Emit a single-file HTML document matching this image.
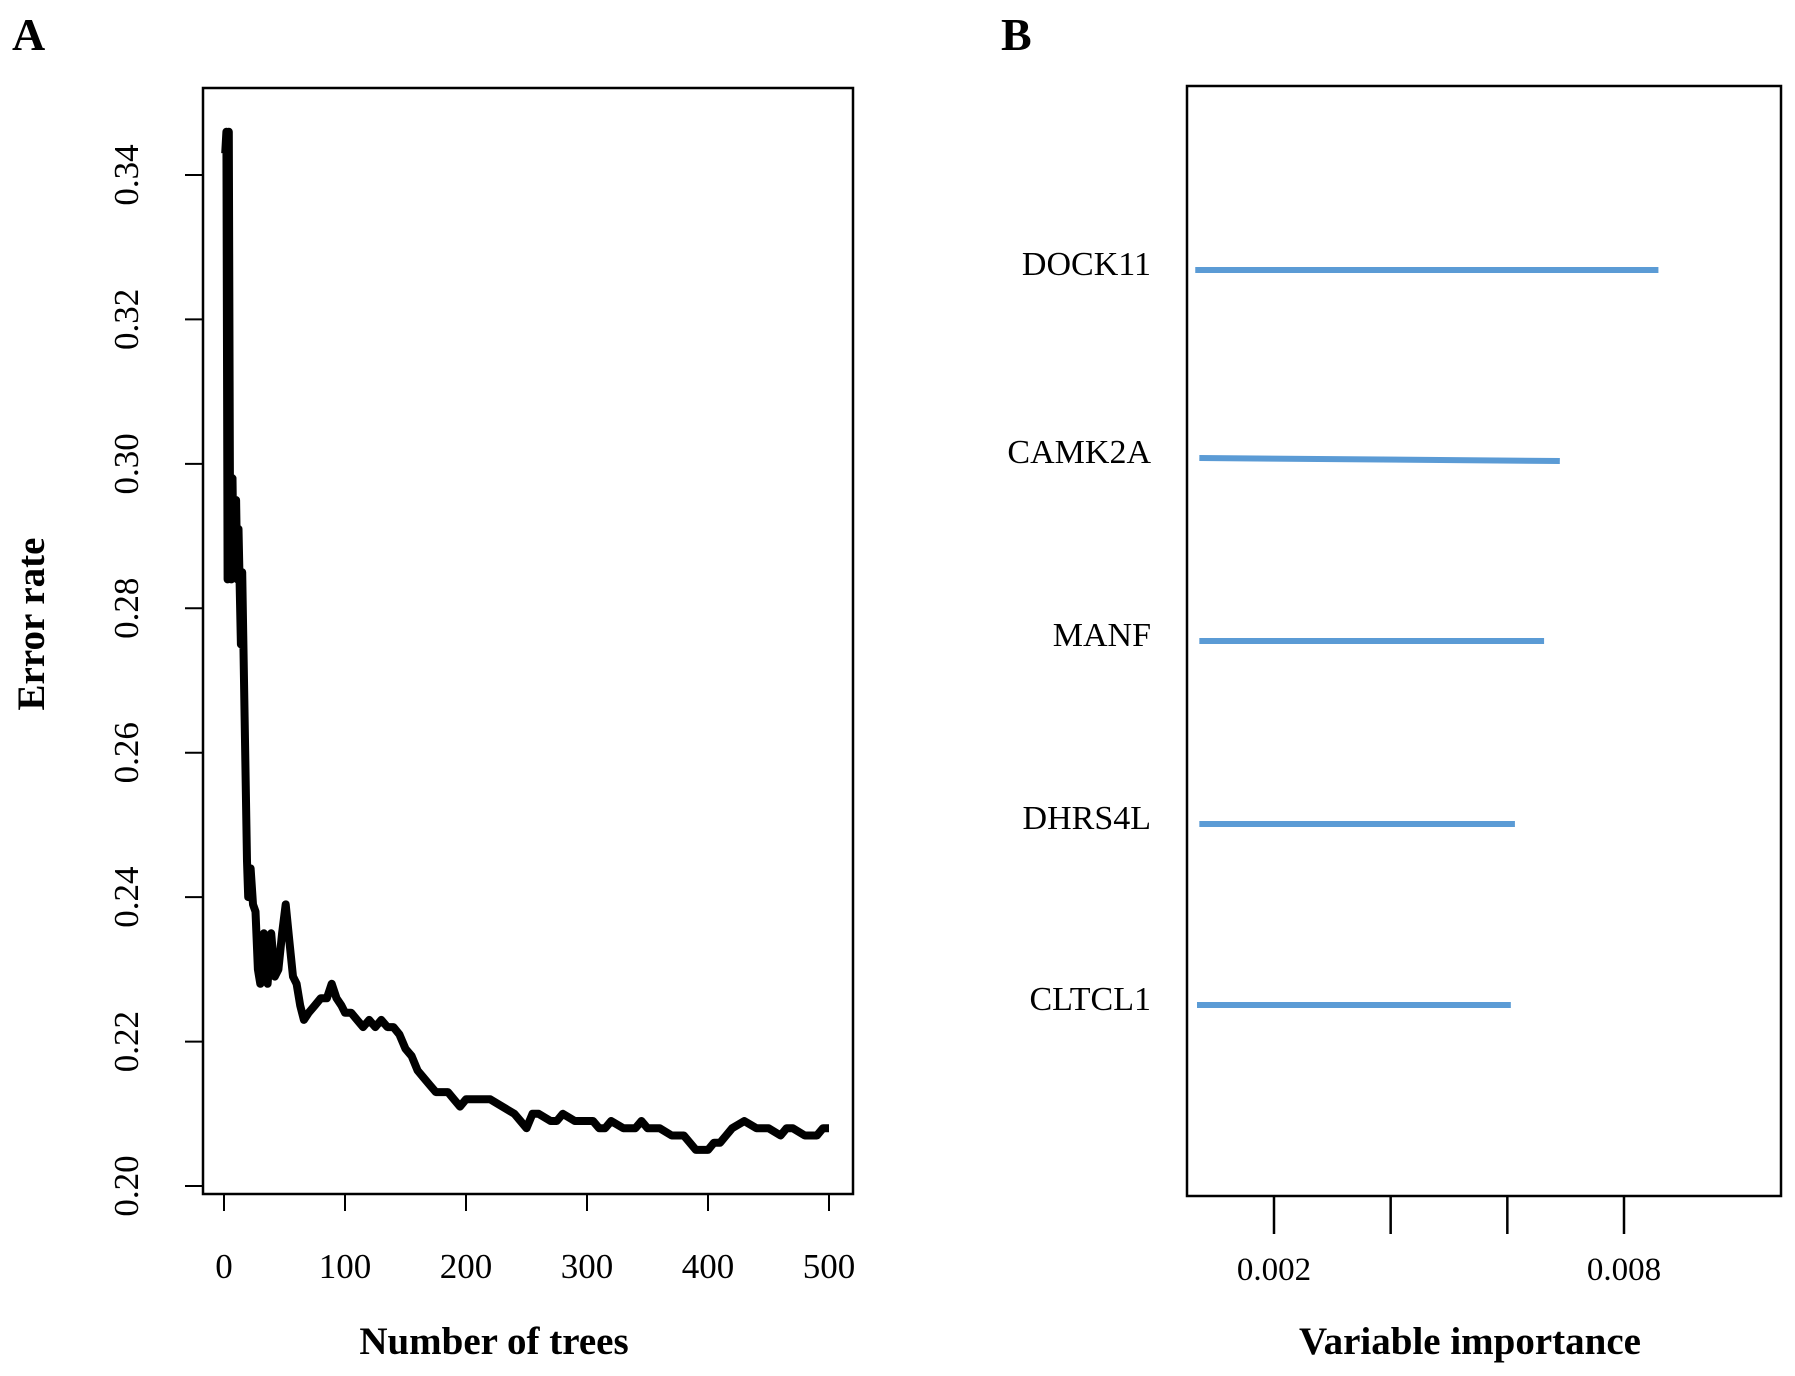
<!DOCTYPE html>
<html><head><meta charset="utf-8"><style>
html,body{margin:0;padding:0;background:#fff;}
svg{display:block;font-family:"Liberation Serif",serif;}
</style></head><body>
<svg id="fig" width="1795" height="1376" viewBox="0 0 1795 1376">
<text x="12" y="50" font-size="46" font-weight="bold">A</text>
<text x="1001" y="50" font-size="46" font-weight="bold">B</text>
<g id="chartA"></g>
<g id="chartB"></g>
</svg>
<script>
// Panel A data
const treeCounts = [1,2,3,4,5,6,7,8,10,11,12,14,15,17,19,20,22,24,26,28,30,33,36,39,42,45,48,51,54,57,60,63,66,70,75,80,85,89,93,97,100,105,110,115,120,125,130,135,140,145,150,155,160,165,170,175,180,185,190,195,200,210,220,230,240,245,250,255,260,270,275,280,290,300,305,310,315,320,330,340,345,350,360,370,380,390,400,405,410,415,420,430,440,450,460,465,470,480,490,495,500];
const errorRates = [0.343,0.346,0.284,0.346,0.29,0.284,0.298,0.285,0.295,0.284,0.291,0.275,0.285,0.265,0.245,0.24,0.244,0.239,0.238,0.23,0.228,0.235,0.228,0.235,0.229,0.23,0.235,0.239,0.234,0.229,0.228,0.225,0.223,0.224,0.225,0.226,0.226,0.228,0.226,0.225,0.224,0.224,0.223,0.222,0.223,0.222,0.223,0.222,0.222,0.221,0.219,0.218,0.216,0.215,0.214,0.213,0.213,0.213,0.212,0.211,0.212,0.212,0.212,0.211,0.210,0.209,0.208,0.210,0.210,0.209,0.209,0.210,0.209,0.209,0.209,0.208,0.208,0.209,0.208,0.208,0.209,0.208,0.208,0.207,0.207,0.205,0.205,0.206,0.206,0.207,0.208,0.209,0.208,0.208,0.207,0.208,0.208,0.207,0.207,0.208,0.208];
const xTicksA = [0,100,200,300,400,500];
const yTicksA = [0.20,0.22,0.24,0.26,0.28,0.30,0.32,0.34];
// Panel B data
const genes = ["DOCK11","CAMK2A","MANF","DHRS4L","CLTCL1"];
const importanceStart = [0.00065,0.00072,0.00072,0.00072,0.00068];
const importanceEnd = [0.00859,0.0069,0.00663,0.00613,0.00606];
const xTicksB = [0.002,0.004,0.006,0.008];
const xTickLabelsB = ["0.002","","","0.008"];

const NS="http://www.w3.org/2000/svg";
function mk(tag,attrs,parent,text){const e=document.createElementNS(NS,tag);for(const k in attrs)e.setAttribute(k,attrs[k]);if(text!==undefined)e.textContent=text;parent.appendChild(e);return e;}

// Panel A
const A=document.getElementById('chartA');
const xA=v=>224+(v/500)*(829-224);
const yA=v=>1186-(v-0.2)/0.14*(1186-175);
let e=mk('rect',{x:203,y:88,width:650,height:1106,fill:'none',stroke:'#000','stroke-width':2.5},A);


xTicksA.forEach(t=>{
  let l=mk('line',{x1:xA(t),x2:xA(t),y1:1194,y2:1211,stroke:'#000','stroke-width':2},A);
  
  
  let tx=mk('text',{x:xA(t),y:1278,'font-size':35,'text-anchor':'middle'},A,String(t));
  
  
});
yTicksA.forEach(t=>{
  let y=yA(t);
  let l=mk('line',{x1:185,x2:203,y1:y,y2:y,stroke:'#000','stroke-width':2},A);
  
  
  let tx=mk('text',{x:0,y:0,'font-size':35,'text-anchor':'middle',transform:`translate(138,${y}) rotate(-90)`},A,t.toFixed(2));
  
  
});
let d=treeCounts.map((t,i)=>(i?'L':'M')+xA(t).toFixed(1)+','+yA(errorRates[i]).toFixed(1)).join(' ');
e=mk('path',{d:d,fill:'none',stroke:'#000','stroke-width':8,'stroke-linejoin':'round'},A);


e=mk('text',{x:494,y:1354,'font-size':39,'font-weight':'bold','text-anchor':'middle'},A,'Number of trees');


e=mk('text',{x:0,y:0,'font-size':39,'font-weight':'bold','text-anchor':'middle',transform:'translate(44,624) rotate(-90)'},A,'Error rate');



// Panel B
const B=document.getElementById('chartB');
const xB=v=>1274+(v-0.002)/0.006*(1624-1274);
const rowY=[270,458,641,824,1005];
e=mk('rect',{x:1187,y:86,width:594,height:1110,fill:'none',stroke:'#000','stroke-width':2.5},B);


xTicksB.forEach((t,i)=>{
  let l=mk('line',{x1:xB(t),x2:xB(t),y1:1196,y2:1234,stroke:'#000','stroke-width':2.5},B);
  
  
  if(xTickLabelsB[i]){
    let tx=mk('text',{x:xB(t),y:1280,'font-size':33,'text-anchor':'middle'},B,xTickLabelsB[i]);
    
    
  }
});
genes.forEach((g,i)=>{
  let l=mk('line',{x1:xB(importanceStart[i]),x2:xB(importanceEnd[i]),y1:rowY[i],y2:rowY[i]+(i==1?3:0),stroke:'#5b9bd5','stroke-width':6},B);
  
  
  let tx=mk('text',{x:1151,y:rowY[i]+5,'font-size':34,'text-anchor':'end'},B,g);
  
  
});
e=mk('text',{x:1470,y:1354,'font-size':39,'font-weight':'bold','text-anchor':'middle'},B,'Variable importance');


</script>
</body></html>
